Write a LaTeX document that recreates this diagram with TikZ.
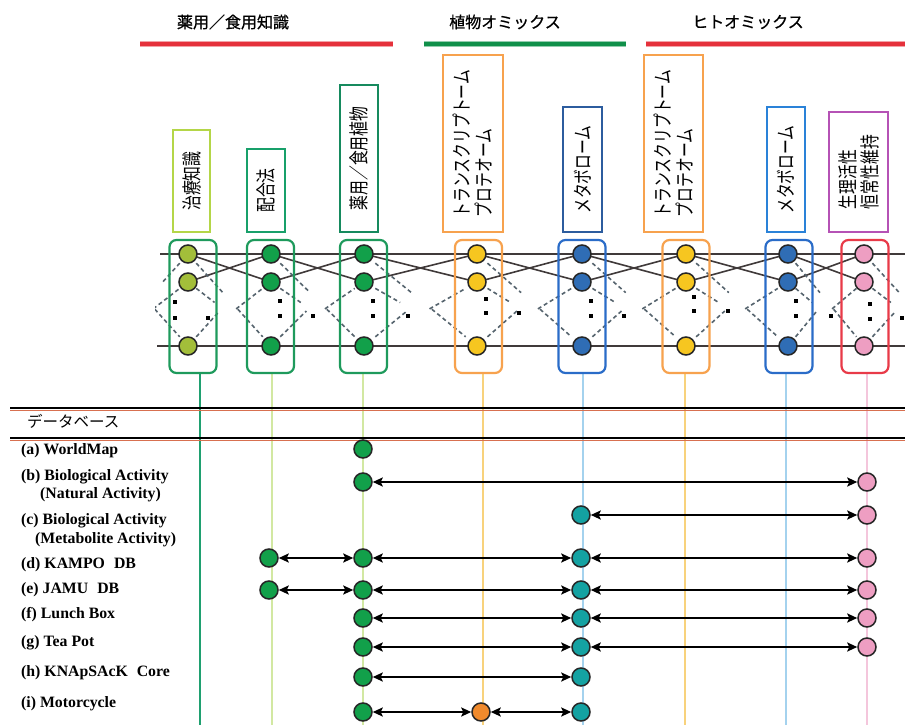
\documentclass[tikz,border=0pt]{standalone}
\usepackage{fontspec}
\setmainfont{Liberation Serif}
\newfontfamily\jpfont{Noto Sans CJK JP}
\newfontfamily\jphdr[FakeBold=0.8]{Noto Sans CJK JP}
\newfontfamily\jpcond[FakeStretch=0.74]{Noto Sans CJK JP}
\usetikzlibrary{arrows.meta,calc}
\definecolor{cLgr}{HTML}{A3BE3A}
\definecolor{cGr}{HTML}{12A04A}
\definecolor{cYe}{HTML}{F6C620}
\definecolor{cBl}{HTML}{2F6DB5}
\definecolor{cPk}{HTML}{EE9EC2}
\definecolor{cTe}{HTML}{14A2A2}
\definecolor{cOr}{HTML}{F08A2C}
\definecolor{bGreen}{HTML}{1E9A5C}
\definecolor{bOrange}{HTML}{F7A24E}
\definecolor{bBlue}{HTML}{2A6CC8}
\definecolor{bRed}{HTML}{E83A48}
\definecolor{lYg}{HTML}{B4D648}
\definecolor{lGr}{HTML}{18A06A}
\definecolor{lDg}{HTML}{168A5E}
\definecolor{lDb}{HTML}{2C5C9E}
\definecolor{lBl}{HTML}{2A82D8}
\definecolor{lPu}{HTML}{B552B5}
\definecolor{vGreen}{HTML}{1FA070}
\definecolor{vLgr}{HTML}{D2E8A2}
\definecolor{vOr}{HTML}{F8D27C}
\definecolor{vBl}{HTML}{A4D2EE}
\definecolor{vPk}{HTML}{F4C6DC}
\definecolor{hRed}{HTML}{E5313B}
\definecolor{hGreen}{HTML}{10904A}
\definecolor{netline}{HTML}{403A3A}
\definecolor{dashc}{HTML}{56646E}
\definecolor{shadowc}{HTML}{D87050}
\begin{document}
\begin{tikzpicture}[x=1pt,y=-1pt,
 neuron/.style={circle,draw=black!85,line width=1.5pt,minimum size=18pt,inner sep=0pt},
 netbox/.style={draw,rounded corners=7pt,line width=2.2pt,minimum width=47pt,minimum height=133pt,inner sep=0pt},
 labbox/.style={draw,line width=2.2pt,rotate=90,inner sep=0pt,align=left,font=\jpcond\fontsize{20}{22}\selectfont},
 hdr/.style={font=\jphdr\fontsize{16}{18}\selectfont},
 dbl/.style={anchor=west,font=\bfseries\fontsize{15.8}{18}\selectfont,inner sep=0pt},
 xline/.style={draw=netline,line width=1.6pt},
 conn/.style={draw=dashc,line width=1.6pt,dash pattern=on 4pt off 3pt},
 biarrow/.style={{Stealth[length=10pt,width=9pt,inset=2pt]}-{Stealth[length=10pt,width=9pt,inset=2pt]},line width=2pt},
 vl/.style={line width=2.2pt},
]
\useasboundingbox (0,0) rectangle (905,725);
\fill[white] (0,0) rectangle (905,725);

% headers
\node[hdr] (h1) at (233,22) {薬用／食用知識};
\node[hdr] (h2) at (505,22) {植物オミックス};
\node[hdr] (h3) at (748,22) {ヒトオミックス};
\foreach \xa/\xb/\c in {140/393/hRed,424/626/hGreen,646/905/hRed}{
  \draw[line width=5.5pt,\c!45] (\xa,44) -- (\xb,44);
  \draw[line width=3.5pt,\c] (\xa,44) -- (\xb,44);
}

% label boxes
\node[labbox,draw=lYg,minimum width=102pt,minimum height=37pt] (L1) at (191.5,181) {治療知識};
\node[labbox,draw=lGr,minimum width=83pt,minimum height=38pt] (L2) at (266,190.5) {配合法};
\node[labbox,draw=lDg,minimum width=147pt,minimum height=38pt] (L3) at (359,158.5) {薬用／食用植物};
\node[labbox,draw=bOrange,minimum width=177pt,minimum height=60pt] (L4) at (473,143.5) {トランスクリプトーム\\プロテオーム};
\node[labbox,draw=lDb,minimum width=125pt,minimum height=39pt] (L5) at (582.5,169.5) {メタボローム};
\node[labbox,draw=bOrange,minimum width=177pt,minimum height=59pt] (L6) at (673.5,143.5) {トランスクリプトーム\\プロテオーム};
\node[labbox,draw=lBl,minimum width=125pt,minimum height=38pt] (L7) at (786,169.5) {メタボローム};
\node[labbox,draw=lPu,minimum width=120pt,minimum height=59pt] (L8) at (858.5,172) {生理活性\\恒常性維持};

% vertical lines
\foreach \x/\c in {200/vGreen,272/vLgr,363/vLgr,483/vOr,583/vBl,685/vOr,786/vBl,867/vPk}{
  \draw[vl,\c] (\x,373) -- (\x,725);
}

% network coordinates
\foreach \i/\x in {0/105,1/188,2/271,3/364,4/477,5/582,6/686,7/788,8/864,9/948}{
  \coordinate (p\i t) at (\x,254);
  \coordinate (p\i m) at (\x,282);
  \coordinate (p\i b) at (\x,346);
}
\coordinate (ltop) at (160,254); \coordinate (rtop) at (905,254);
\coordinate (lbot) at (157,346); \coordinate (rbot) at (905,346);

\begin{scope}
\clip (155,235) rectangle (905,380);
\draw[xline] (ltop) -- (rtop);
\draw[xline] (lbot) -- (rbot);
\foreach \a/\b in {1/2,2/3,3/4,4/5,5/6,6/7,7/8}{
  \draw[xline] (p\a t) -- (p\b m);
  \draw[xline] (p\a m) -- (p\b t);
}
\foreach \a/\b in {0/1,1/2,2/3,3/4,4/5,5/6,6/7,7/8,8/9}{
  \draw[conn] ($(p\a t)!0.1!(p\b b)$) -- ($(p\a t)!0.42!(p\b b)$);
  \draw[conn] ($(p\a m)!0.1!(p\b b)$) -- ($(p\a m)!0.32!(p\b b)$);
  \draw[conn] ($(p\a b)!0.1!(p\b t)$) -- ($(p\a b)!0.38!(p\b t)$);
  \draw[conn] ($(p\a b)!0.58!(p\b m)$) -- ($(p\a b)!0.9!(p\b m)$);
  \draw[conn] ($(p\a t)!0.6!(p\b b)$) -- ($(p\a t)!0.9!(p\b b)$);
}
\draw[conn] ($(p0b)!0.7!(p1t)$) -- ($(p0b)!0.9!(p1t)$);
\end{scope}

% ellipsis dots
\foreach \x/\y in {175/302,175/318,208/318,280/301,280/316,313/316,373/301,373/316,408/316,486/299,486/313,519/313,591/301,591/316,624/316,694/297,694/311,728/311,796/301,796/316,831/316,870/304,870/319,902/318}{
  \fill (\x-2,\y-2) rectangle ++(4,4);
}

% network boxes and neurons
\foreach \i/\bx/\bc/\nc in {1/193/bGreen/cLgr,2/270.5/bGreen/cGr,3/363.5/bGreen/cGr,4/478.5/bOrange/cYe,5/582/bBlue/cBl,6/686/bOrange/cYe,7/789/bBlue/cBl,8/865/bRed/cPk}{
  \node[netbox,draw=\bc] (N\i) at (\bx,306.5) {};
  \node[neuron,fill=\nc] (n\i t) at (p\i t) {};
  \node[neuron,fill=\nc] (n\i m) at (p\i m) {};
  \node[neuron,fill=\nc] (n\i b) at (p\i b) {};
}

% database separator lines
\coordinate (s1l) at (10,408); \coordinate (s1r) at (905,408);
\coordinate (s2l) at (10,438); \coordinate (s2r) at (905,438);
\draw[shadowc,line width=0.9pt] ($(s1l)+(0,2)$) -- ($(s1r)+(0,2)$);
\draw[shadowc,line width=0.9pt] ($(s2l)+(0,2)$) -- ($(s2r)+(0,2)$);
\draw[black,line width=2.2pt] (s1l) -- (s1r);
\draw[black,line width=2.2pt] (s2l) -- (s2r);
\node[anchor=west,inner sep=0pt,font=\jpfont\fontsize{15.5}{18}\selectfont] (dbt) at (27,421) {データベース};

% database labels
\node[dbl] (ta) at (21,451) {(a) WorldMap};
\node[dbl] (tb1) at (21,477) {(b) Biological Activity};
\node[dbl] (tb2) at (40,495) {(Natural Activity)};
\node[dbl] (tc1) at (21,521) {(c) Biological Activity};
\node[dbl] (tc2) at (35,540) {(Metabolite Activity)};
\node[dbl] (td) at (21,565) {(d) KAMPO\hspace{9pt}DB};
\node[dbl] (te) at (21,590) {(e) JAMU\hspace{9pt}DB};
\node[dbl] (tf) at (21,615) {(f) Lunch Box};
\node[dbl] (tg) at (21,643) {(g) Tea Pot};
\node[dbl] (th) at (21,673) {(h) KNApSAcK\hspace{9pt}Core};
\node[dbl] (ti) at (21,704) {(i) Motorcycle};

% database nodes
\node[neuron,fill=cGr] (a3) at (363,449) {};
\node[neuron,fill=cGr] (b3) at (363,482) {};
\node[neuron,fill=cPk] (b8) at (867,482) {};
\node[neuron,fill=cTe] (c5) at (581,515) {};
\node[neuron,fill=cPk] (c8) at (867,515) {};
\foreach \r/\y in {d/558,e/590}{
  \node[neuron,fill=cGr] (\r2) at (269,\y) {};
  \node[neuron,fill=cGr] (\r3) at (363,\y) {};
  \node[neuron,fill=cTe] (\r5) at (581,\y) {};
  \node[neuron,fill=cPk] (\r8) at (867,\y) {};
}
\foreach \r/\y in {f/618,g/647}{
  \node[neuron,fill=cGr] (\r3) at (363,\y) {};
  \node[neuron,fill=cTe] (\r5) at (581,\y) {};
  \node[neuron,fill=cPk] (\r8) at (867,\y) {};
}
\node[neuron,fill=cGr] (h3) at (363,677) {};
\node[neuron,fill=cTe] (h5) at (581,677) {};
\node[neuron,fill=cGr] (i3) at (363,712) {};
\node[neuron,fill=cOr] (i4) at (481,712) {};
\node[neuron,fill=cTe] (i5) at (581,712) {};

% database arrows
\draw[biarrow] (b3) -- (b8);
\draw[biarrow] (c5) -- (c8);
\draw[biarrow] (d2) -- (d3);
\draw[biarrow] (d3) -- (d5);
\draw[biarrow] (d5) -- (d8);
\draw[biarrow] (e2) -- (e3);
\draw[biarrow] (e3) -- (e5);
\draw[biarrow] (e5) -- (e8);
\draw[biarrow] (f3) -- (f5);
\draw[biarrow] (f5) -- (f8);
\draw[biarrow] (g3) -- (g5);
\draw[biarrow] (g5) -- (g8);
\draw[biarrow] (h3) -- (h5);
\draw[biarrow] (i3) -- (i4);
\draw[biarrow] (i4) -- (i5);
\end{tikzpicture}
\end{document}
